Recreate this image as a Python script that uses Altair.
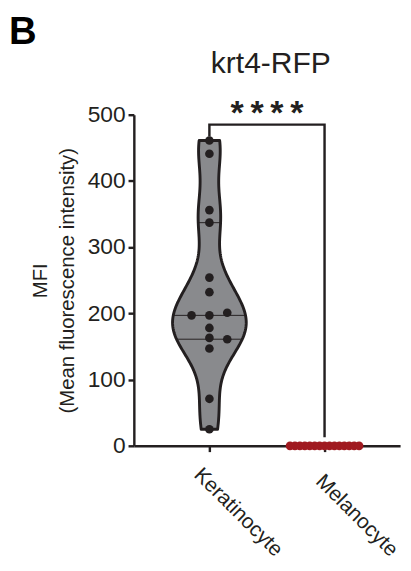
import altair as alt
import numpy as np
import pandas as pd

# ---- values ----
categories = ["Keratinocyte", "Melanocyte"]
keratinocyte = [461, 441, 356, 337, 254, 232, 197, 201, 197, 178, 163, 161, 147, 71, 25]
melanocyte = [0, 0, 0, 0, 0, 0, 0, 0, 0, 0, 0, 0, 0, 0, 0]
y_ticks = [0, 100, 200, 300, 400, 500]
panel_label = "B"
chart_title = "krt4-RFP"
y_title = ["MFI", "(Mean fluorescence intensity)"]
significance = "****"

# ---- styling ----
INK = "#231f20"
GRAY = "#898a8d"
RED = "#a01a20"
FONT = "Liberation Sans"
BW = 40          # KDE bandwidth
HALF = 0.32      # max half-width of violin in x units
STEPS = 200

groups = {categories[0]: keratinocyte, categories[1]: melanocyte}
pos = {c: i + 1 for i, c in enumerate(categories)}


def swarm_slots(values, thr):
    placed, out = [], []
    order = [0] + [s for n in range(1, len(values) + 1) for s in (n, -n)]
    for v in values:
        for s in order:
            if all(not (ps == s and abs(pv - v) < thr) for pv, ps in placed):
                break
        placed.append((v, s))
        out.append(s)
    return out


rows = []
for c, vals in groups.items():
    slots = swarm_slots(vals, 13.5)
    spread = max(slots) - min(slots)
    step = 0.155 if spread == 0 else min(0.155, 0.6 / spread)
    for v, s in zip(vals, slots):
        rows.append({"group": c, "x": pos[c] + s * step, "value": v})
points_df = pd.DataFrame(rows)

ker = np.array(keratinocyte, float)
lo, hi = float(ker.min()), float(ker.max())


def kde(x):
    x = np.atleast_1d(x)[:, None]
    return np.exp(-0.5 * ((x - ker[None, :]) / BW) ** 2).sum(1) / (len(ker) * BW * np.sqrt(2 * np.pi))


dmax = kde(np.linspace(lo, hi, STEPS)).max()
quart = np.percentile(ker, [25, 50, 75], method="weibull")
hw = kde(quart) / dmax * HALF
quart_df = pd.DataFrame({"value": quart, "x": 1 - hw, "x2": 1 + hw})

xscale = alt.Scale(domain=[0.344, 2.656], nice=False, zero=False)
yscale = alt.Scale(domain=[0, 500], nice=False)

label_expr = " : ".join(
    [f"datum.value == {pos[c]} ? '{c}'" for c in categories]
) + " : ''"

xaxis = alt.Axis(
    values=[pos[c] for c in categories], labelExpr=label_expr, title=None,
    labelAngle=45, labelAlign="right", labelBaseline="alphabetic",
    labelOffset=67, labelPadding=109, labelFont=FONT, labelFontSize=21.5,
    labelColor=INK, labelFlush=False, labelOverlap=False, labelBound=False,
    tickSize=6, tickWidth=2.5, tickColor=INK, domainColor=INK, domainWidth=2.5,
    grid=False,
)
yaxis = alt.Axis(
    values=y_ticks, title=y_title, titleFont=FONT, titleFontSize=21,
    titleFontWeight="normal", titleColor=INK, titlePadding=10, titleLineHeight=28,
    labelFont=FONT, labelFontSize=23.5, labelColor=INK, labelPadding=3,
    labelFlush=False, tickSize=6, tickWidth=2.5, tickColor=INK,
    domainColor=INK, domainWidth=2.5, grid=False,
)

ker_df = pd.DataFrame({"value": keratinocyte})
violin = alt.Chart(ker_df).transform_density(
    "value", as_=["value", "density"], bandwidth=BW, extent=[lo, hi], steps=STEPS
).transform_joinaggregate(
    dmax="max(density)"
).transform_calculate(
    left=f"1 - datum.density / datum.dmax * {HALF}",
    right=f"1 + datum.density / datum.dmax * {HALF}",
).mark_area(
    orient="horizontal", fill=GRAY, stroke=INK, strokeWidth=3, strokeJoin="round"
).encode(
    y=alt.Y("value:Q", scale=yscale, axis=yaxis),
    x=alt.X("left:Q", scale=xscale, axis=xaxis),
    x2="right:Q",
)

quartiles = alt.Chart(quart_df).mark_rule(color=INK, strokeWidth=1).encode(
    y="value:Q", x="x:Q", x2="x2:Q"
)

dots = alt.Chart(points_df).mark_circle(size=80, opacity=1).encode(
    x="x:Q", y="value:Q",
    color=alt.Color("group:N", scale=alt.Scale(domain=categories, range=[INK, RED]), legend=None),
)

bracket_top = max(max(keratinocyte), max(melanocyte)) + 24
bracket_df = pd.DataFrame({
    "i": [0, 1, 2, 3],
    "x": [1, 1, 2, 2],
    "value": [max(keratinocyte) + 6, bracket_top, bracket_top, max(melanocyte) + 13],
})
bracket = alt.Chart(bracket_df).mark_line(color=INK, strokeWidth=2.5).encode(
    x="x:Q", y="value:Q", order="i:Q"
)
stars_text = "\u2009".join(significance)
stars = alt.Chart(pd.DataFrame({"x": [1.5], "value": [bracket_top], "t": [stars_text]})).mark_text(
    font=FONT, fontSize=35, fontWeight="bold", color=INK, baseline="alphabetic", dy=-1
).encode(x="x:Q", y="value:Q", text="t:N")

panel = alt.Chart(pd.DataFrame({"t": [panel_label]})).mark_text(
    font=FONT, fontSize=39.5, fontWeight="bold", color="#000000",
    align="left", baseline="alphabetic",
).encode(x=alt.value(-129), y=alt.value(-73), text="t:N")

chart = alt.layer(violin, quartiles, dots, bracket, stars, panel).properties(
    width=275, height=342,
    title=alt.TitleParams(chart_title, font=FONT, fontSize=31, fontWeight="normal",
                          color=INK, anchor="middle", frame="group", dx=4,
                          baseline="alphabetic", offset=-93),
    autosize=alt.AutoSizeParams(type="none"),
    padding={"left": 130, "top": 101, "right": 3, "bottom": 118},
).configure_view(stroke=None)

chart.save("out.html", embed_options={"renderer": "svg", "actions": False})
